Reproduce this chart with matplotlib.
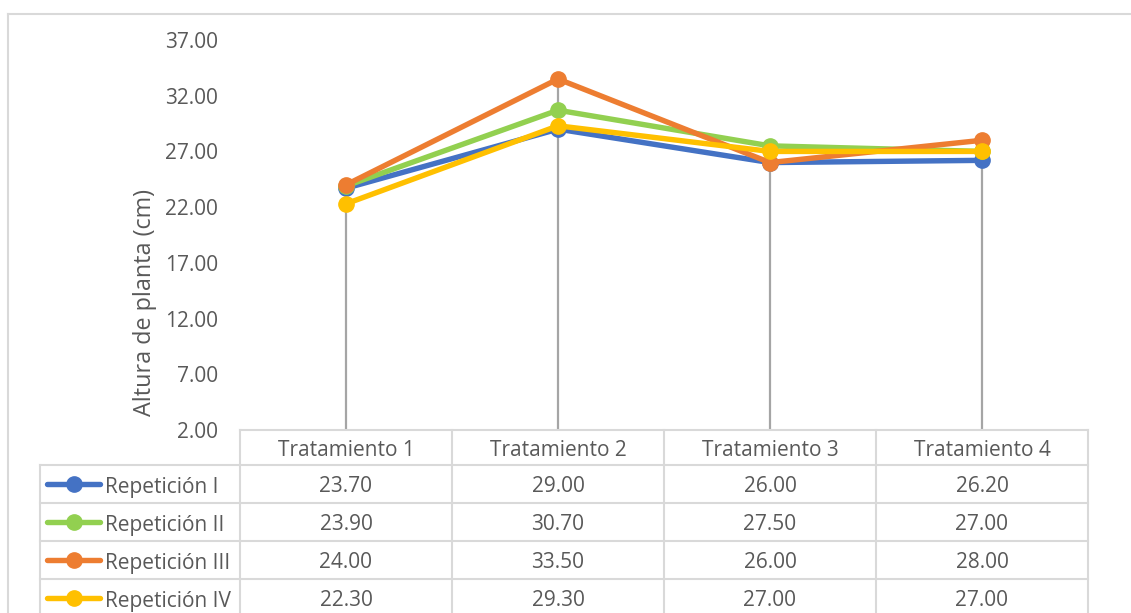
import matplotlib.pyplot as plt
from matplotlib.lines import Line2D

categories = ['Tratamiento 1', 'Tratamiento 2', 'Tratamiento 3', 'Tratamiento 4']
series_names = ['Repetición I', 'Repetición II', 'Repetición III', 'Repetición IV']
rep_1 = [23.70, 29.00, 26.00, 26.20]
rep_2 = [23.90, 30.70, 27.50, 27.00]
rep_3 = [24.00, 33.50, 26.00, 28.00]
rep_4 = [22.30, 29.30, 27.00, 27.00]
series = [rep_1, rep_2, rep_3, rep_4]
colors = ['#4472C4', '#92D050', '#ED7D31', '#FFC000']
yticks = [2, 7, 12, 17, 22, 27, 32, 37]

W, H = 1131, 613
plt.rcParams['font.family'] = ['Open Sans', 'DejaVu Sans']
txt = '#595959'
grid_c = '#D9D9D9'
fs = 15

fig = plt.figure(figsize=(W / 100, H / 100), dpi=100)

# plot area in pixels
x0, x1 = 240, 1088
y_top, y_bot = 40, 430
ax = fig.add_axes([x0 / W, 1 - y_bot / H, (x1 - x0) / W, (y_bot - y_top) / H])
ax.set_xlim(-0.5, len(categories) - 0.5)
ax.set_ylim(2, 37)
ax.set_yticks(yticks)
ax.set_yticklabels(['%.2f' % v for v in yticks], fontsize=fs, color=txt)
ax.set_xticks([])
ax.tick_params(axis='y', length=0, pad=16)
for s in ax.spines.values():
    s.set_visible(False)

# drop lines
xs = list(range(len(categories)))
tops = [max(v) for v in zip(*series)]
ax.vlines(xs, 2, tops, color='#A5A5A5', lw=1.6, zorder=1)

for vals, c in zip(series, colors):
    ax.plot(xs, vals, color=c, lw=3.9, marker='o', ms=11, solid_capstyle='round', zorder=3)

fig.text(145 / W, 1 - 303 / H, 'Altura de planta (cm)', rotation=90,
         ha='center', va='center', fontsize=16.8, color=txt)

# data table (pixel coordinates)
def hline(y, xa, xb):
    fig.add_artist(Line2D([xa / W, xb / W], [1 - y / H, 1 - y / H], color=grid_c, lw=1.5))

def vline(x, ya, yb):
    fig.add_artist(Line2D([x / W, x / W], [1 - ya / H, 1 - yb / H], color=grid_c, lw=1.5))

col_w = (x1 - x0) / len(categories)
hdr_top = 430
row_tops = [465, 503, 541, 579]
row_h = 38

hline(hdr_top, x0, x1)
for yy in row_tops:
    hline(yy, 40, x1)
for i in range(len(categories) + 1):
    vline(x0 + i * col_w, hdr_top, H + 5)
vline(40, 465, H + 5)

for i, cat in enumerate(categories):
    fig.text((x0 + (i + 0.5) * col_w) / W, 1 - (hdr_top + 21) / H, cat,
             ha='center', va='center', fontsize=fs, color=txt)

for r, (name, vals, c) in enumerate(zip(series_names, series, colors)):
    yc = 1 - (row_tops[r] + row_h / 2) / H
    yt = 1 - (row_tops[r] + row_h / 2 + 3) / H
    fig.add_artist(Line2D([47 / W, 100 / W], [yc, yc], color=c, lw=3.9,
                          solid_capstyle='round'))
    fig.add_artist(Line2D([74 / W], [yc], color=c, marker='o', ms=11))
    fig.text(105 / W, yt, name, ha='left', va='center', fontsize=fs, color=txt)
    for i, v in enumerate(vals):
        fig.text((x0 + (i + 0.5) * col_w) / W, yt, '%.2f' % v,
                 ha='center', va='center', fontsize=fs, color=txt)

# chart border
hline(14, 8, W + 5)
vline(8, 14, H + 5)

fig.savefig('out.png', dpi=100)
